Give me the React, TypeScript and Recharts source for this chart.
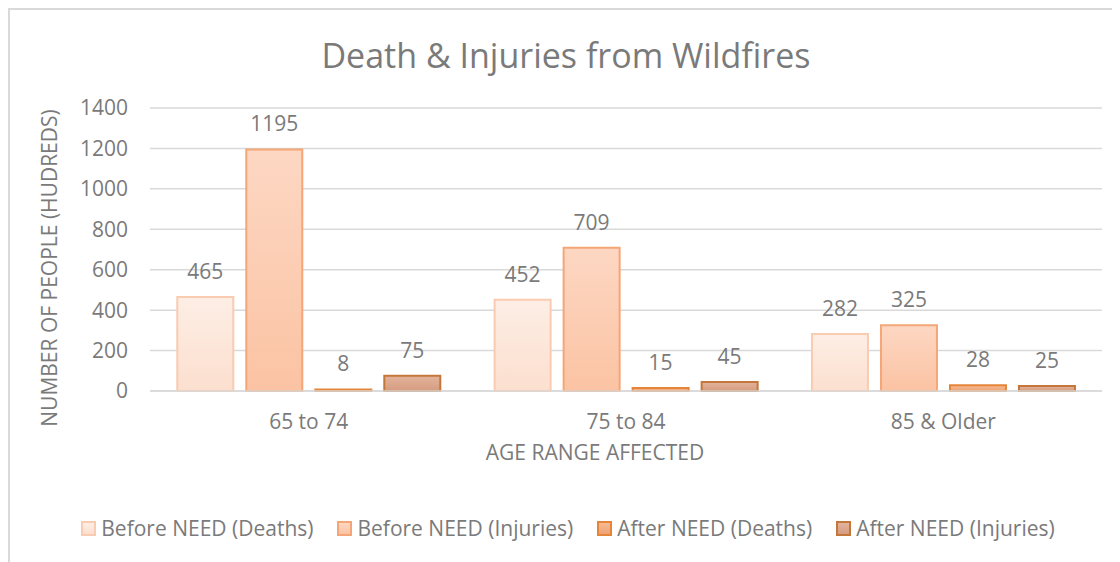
import { BarChart, Bar, XAxis, YAxis, CartesianGrid, Legend, LabelList } from "recharts";

const categories = ["65 to 74", "75 to 84", "85 & Older"];
const beforeDeaths = [465, 452, 282];
const beforeInjuries = [1195, 709, 325];
const afterDeaths = [8, 15, 28];
const afterInjuries = [75, 45, 25];
const yTicks = [0, 200, 400, 600, 800, 1000, 1200, 1400];

const SERIES = [
  { key: "bd", name: "Before NEED (Deaths)", top: "#fdeee5", bottom: "#fcdfcf", stroke: "#f9cbb0" },
  { key: "bi", name: "Before NEED (Injuries)", top: "#fdd7c3", bottom: "#fbc3a3", stroke: "#f4a676" },
  { key: "ad", name: "After NEED (Deaths)", top: "#f5bb94", bottom: "#efa274", stroke: "#e5853a" },
  { key: "ai", name: "After NEED (Injuries)", top: "#e3b39c", bottom: "#d59c80", stroke: "#c4773a" },
];

const data = categories.map((c, i) => ({
  name: c,
  bd: beforeDeaths[i],
  bi: beforeInjuries[i],
  ad: afterDeaths[i],
  ai: afterInjuries[i],
}));

const FONT = "'Open Sans', 'Noto Sans', sans-serif";
const GRAY = "#7a7a7a";
const FS = 21;

const LegendBox = () => (
  <div style={{ display: "flex", justifyContent: "center", fontFamily: FONT, fontSize: FS, color: GRAY }}>
    {SERIES.map((s, i) => (
      <div key={s.key} style={{ display: "flex", alignItems: "center", marginRight: i < 3 ? 24 : 0 }}>
        <span
          style={{
            display: "inline-block",
            width: 11,
            height: 11,
            border: `2px solid ${s.stroke}`,
            background: `linear-gradient(${s.top}, ${s.bottom})`,
            marginRight: 5,
          }}
        />
        <span>{s.name}</span>
      </div>
    ))}
  </div>
);

export default function App() {
  return (
    <div
      style={{
        position: "relative",
        width: 1112,
        height: 554,
        borderTop: "2px solid #d9d9d9",
        borderLeft: "2px solid #d9d9d9",
        boxSizing: "border-box",
        background: "#fff",
      }}
    >
      <div
        style={{
          position: "absolute",
          top: 22,
          left: 0,
          width: 1112,
          textAlign: "center",
          fontFamily: FONT,
          fontSize: 34,
          color: GRAY,
        }}
      >
        Death &amp; Injuries from Wildfires
      </div>
      <BarChart
        width={1110}
        height={552}
        data={data}
        margin={{ top: 98, right: 18, bottom: 141, left: 0 }}
        barCategoryGap="8.6%"
        barGap={13}
        style={{ position: "absolute", top: 0, left: 0 }}
      >
        <defs>
          {SERIES.map((s) => (
            <linearGradient key={s.key} id={`g-${s.key}`} x1="0" y1="0" x2="0" y2="1">
              <stop offset="0%" stopColor={s.top} />
              <stop offset="100%" stopColor={s.bottom} />
            </linearGradient>
          ))}
        </defs>
        <CartesianGrid vertical={false} stroke="#d9d9d9" strokeWidth={1.5} />
        <XAxis
          dataKey="name"
          axisLine={{ stroke: "#d9d9d9", strokeWidth: 1.5 }}
          tickLine={false}
          tickSize={0}
          tickMargin={23}
          tick={{ fill: GRAY, fontSize: FS, fontFamily: FONT }}
          label={{
            content: () => (
              <text x={585} y={450} textAnchor="middle" fill={GRAY} fontSize={FS} fontFamily={FONT}>
                AGE RANGE AFFECTED
              </text>
            ),
          }}
        />
        <YAxis
          width={140}
          domain={[0, 1400]}
          ticks={yTicks}
          axisLine={false}
          tickLine={false}
          tickSize={0}
          tickMargin={22}
          tick={{ fill: GRAY, fontSize: FS, fontFamily: FONT }}
          label={{
            content: () => (
              <text
                x={47}
                y={258}
                textAnchor="middle"
                fill={GRAY}
                fontSize={FS}
                fontFamily={FONT}
                transform="rotate(-90 47 258)"
              >
                NUMBER OF PEOPLE (HUDREDS)
              </text>
            ),
          }}
        />
        <Legend
          layout="horizontal"
          verticalAlign="middle"
          align="center"
          wrapperStyle={{ top: 504, left: 0, width: 1116 }}
          content={() => <LegendBox />}
        />
        {SERIES.map((s) => (
          <Bar
            key={s.key}
            dataKey={s.key}
            name={s.name}
            fill={`url(#g-${s.key})`}
            stroke={s.stroke}
            strokeWidth={2}
            isAnimationActive={false}
          >
            <LabelList dataKey={s.key} position="top" offset={18} fill={GRAY} fontSize={FS} fontFamily={FONT} />
          </Bar>
        ))}
      </BarChart>
    </div>
  );
}
